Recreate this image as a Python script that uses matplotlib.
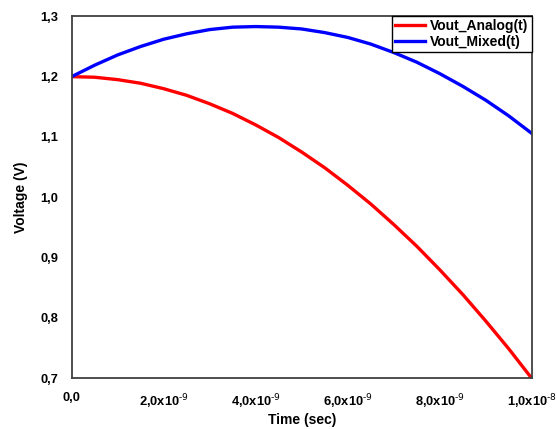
import matplotlib
matplotlib.use("Agg")
import matplotlib.pyplot as plt
from matplotlib import font_manager as fm
from matplotlib.ticker import FixedLocator, FixedFormatter

plt.rcParams['font.family'] = ['Liberation Sans', 'DejaVu Sans']
plt.rcParams['font.stretch'] = 'normal'
bold_path = None
for f in fm.fontManager.ttflist:
    if f.name == 'Liberation Sans' and f.weight in (700, 'bold') and f.style == 'normal' \
            and 'Narrow' not in f.fname:
        bold_path = f.fname
fp_bold = fm.FontProperties(fname=bold_path) if bold_path else fm.FontProperties(family='Liberation Sans', weight='bold')

plt.rcParams['mathtext.fontset'] = 'custom'
plt.rcParams['mathtext.rm'] = 'Liberation Sans:bold'
plt.rcParams['mathtext.bf'] = 'Liberation Sans:bold'
plt.rcParams['mathtext.default'] = 'rm'

time_s = [0.0, 0.5e-9, 1.0e-9, 1.5e-9, 2.0e-9, 2.5e-9, 3.0e-9, 3.5e-9, 4.0e-9, 4.5e-9,
          5.0e-9, 5.5e-9, 6.0e-9, 6.5e-9, 7.0e-9, 7.5e-9, 8.0e-9, 8.5e-9, 9.0e-9, 9.5e-9, 1.0e-8]
vout_analog = [1.200, 1.199, 1.195, 1.189, 1.180, 1.169, 1.155, 1.139, 1.120, 1.099,
               1.075, 1.049, 1.020, 0.989, 0.955, 0.919, 0.880, 0.839, 0.795, 0.749, 0.700]
vout_mixed = [1.200, 1.219, 1.236, 1.250, 1.262, 1.271, 1.278, 1.282, 1.283, 1.282,
              1.279, 1.273, 1.265, 1.254, 1.240, 1.224, 1.205, 1.184, 1.161, 1.135, 1.106]

x_ticks = [0.0, 2e-9, 4e-9, 6e-9, 8e-9, 1e-8]
x_tick_labels = ['0,0', r'2,0x10$^{\text{-9}}$', r'4,0x10$^{\text{-9}}$', r'6,0x10$^{\text{-9}}$',
                 r'8,0x10$^{\text{-9}}$', r'1,0x10$^{\text{-8}}$']
y_ticks = [0.7, 0.8, 0.9, 1.0, 1.1, 1.2, 1.3]
y_tick_labels = ['0,7', '0,8', '0,9', '1,0', '1,1', '1,2', '1,3']

fig = plt.figure(figsize=(5.57, 4.29), dpi=100)
ax = fig.add_axes([0.1287, 0.1182, 0.8259, 0.8438])

ax.plot(time_s, vout_analog, color='#ff0000', lw=2.4, label='Vout_Analog(t)')
ax.plot(time_s, vout_mixed, color='#0000ff', lw=2.4, label='Vout_Mixed(t)')

ax.set_xlim(0, 1e-8)
ax.set_ylim(0.7, 1.3)
ax.xaxis.set_major_locator(FixedLocator(x_ticks))
ax.xaxis.set_major_formatter(FixedFormatter(x_tick_labels))
ax.yaxis.set_major_locator(FixedLocator(y_ticks))
ax.yaxis.set_major_formatter(FixedFormatter(y_tick_labels))
ax.tick_params(axis='both', length=0)
ax.tick_params(axis='x', pad=10)
ax.tick_params(axis='y', pad=9.6)
for lab in ax.get_xticklabels() + ax.get_yticklabels():
    lab.set_fontproperties(fp_bold)
    lab.set_fontsize(9.3)

for s in ax.spines.values():
    s.set_color('#404040')
    s.set_linewidth(1.3)

ax.set_xlabel('Time (sec)', fontproperties=fp_bold, fontsize=10, labelpad=1.5)
ax.set_ylabel('Voltage (V)', fontproperties=fp_bold, fontsize=10, labelpad=9)

lp = fp_bold.copy()
lp.set_size(10)
leg = ax.legend(loc='upper right', borderaxespad=0, fancybox=False, framealpha=1,
                edgecolor='black', prop=lp,
                handlelength=2.2, handletextpad=0.35, borderpad=0.22, labelspacing=0.1)
leg.get_frame().set_linewidth(1.0)

fig.savefig('out.png', dpi=100)
